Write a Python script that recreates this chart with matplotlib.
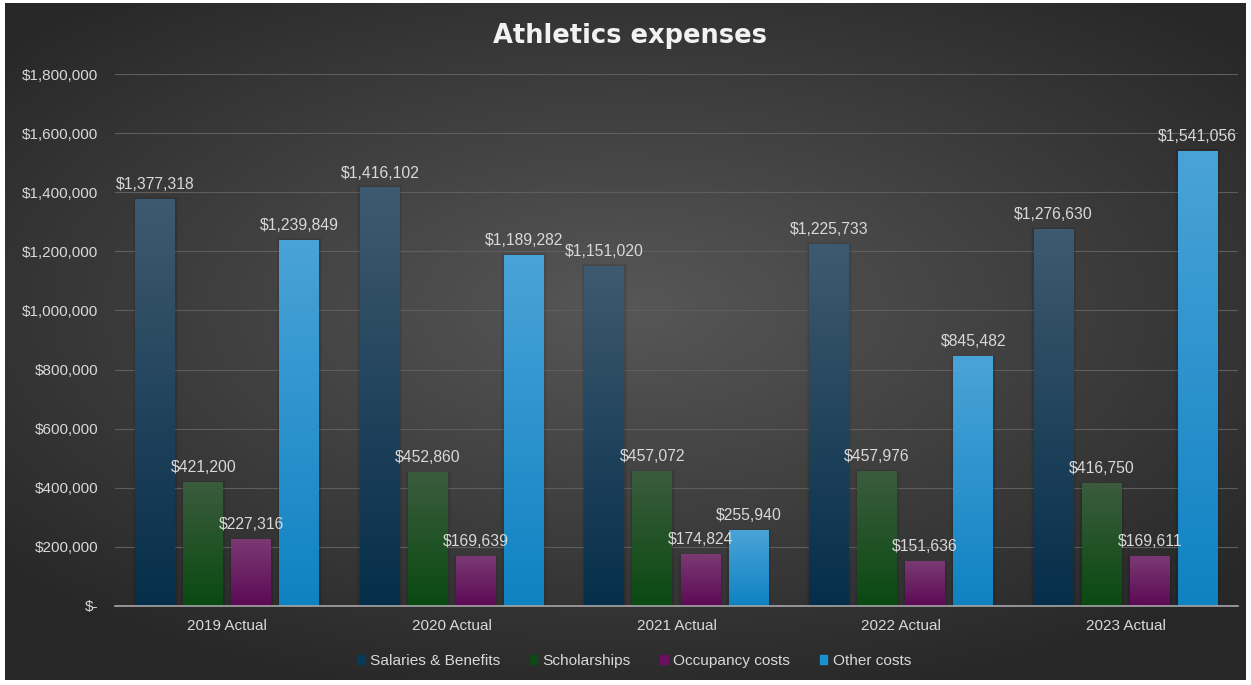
import numpy as np
import matplotlib
matplotlib.use("Agg")
import matplotlib.pyplot as plt
from matplotlib.patches import Patch, Rectangle
from matplotlib.colors import to_rgb
from matplotlib.ticker import FuncFormatter

# data
categories = ['2019 Actual', '2020 Actual', '2021 Actual', '2022 Actual', '2023 Actual']
series_names = ['Salaries & Benefits', 'Scholarships', 'Occupancy costs', 'Other costs']
salaries = [1377318, 1416102, 1151020, 1225733, 1276630]
scholarships = [421200, 452860, 457072, 457976, 416750]
occupancy = [227316, 169639, 174824, 151636, 169611]
other = [1239849, 1189282, 255940, 845482, 1541056]
series_values = [salaries, scholarships, occupancy, other]

# gradient colours (top, bottom) per series
grad_top = ['#3e5a70', '#3b5c3d', '#7b3a74', '#4aa3d8']
grad_bottom = ['#062e4a', '#0a4a12', '#5c0a55', '#0f82c2']
legend_colors = ['#0b3a58', '#0e4a16', '#6a1060', '#1a90d0']

plt.rcParams['font.family'] = ['Liberation Sans', 'DejaVu Sans']
text_col = '#d9d9d9'

fig = plt.figure(figsize=(12.51, 6.85), dpi=100, facecolor='white')

# radial background inside a thin white border
bg = fig.add_axes([5 / 1251, 5 / 685, 1241 / 1251, 677 / 685])
yy, xx = np.mgrid[-1:1:300j, -1:1:500j]
r = np.sqrt((xx / 1.0) ** 2 + ((yy + 0.1) / 0.9) ** 2)
r = np.clip(r / 1.35, 0, 1)
c_in = np.array(to_rgb('#575757'))
c_out = np.array(to_rgb('#272727'))
img = c_in[None, None, :] * (1 - r[..., None]) + c_out[None, None, :] * r[..., None]
bg.imshow(img, aspect='auto', extent=[0, 1, 0, 1], interpolation='bilinear')
bg.set_axis_off()

ax = fig.add_axes([115 / 1251, 1 - 606 / 685, (1238 - 115) / 1251, (606 - 74) / 685])
ax.patch.set_alpha(0)

x = np.arange(len(categories))
step = 0.214
width = 0.178
offsets = (np.arange(4) - 1.5) * step

for i, vals in enumerate(series_values):
    bars = ax.bar(x + offsets[i], vals, width, color=legend_colors[i], zorder=3)
    top = np.array(to_rgb(grad_top[i]))
    bot = np.array(to_rgb(grad_bottom[i]))
    t = np.linspace(0, 1, 100)[:, None]
    grad = (top * (1 - t) + bot * t)[:, None, :]
    for b, v in zip(bars, vals):
        x0, w = b.get_x(), b.get_width()
        # soft shadow around the bar
        for k, a in [(0.012, 0.05), (0.006, 0.07)]:
            ax.add_patch(Rectangle((x0 - k, 0), w + 2 * k, v * (1 + k * 0.4), color='black',
                                   alpha=a, zorder=2, linewidth=0))
        im = ax.imshow(grad, aspect='auto', extent=[x0, x0 + w, 0, v],
                       zorder=4, interpolation='bilinear')
        im.set_clip_path(b)
        ax.annotate(f'${v:,.0f}', (x0 + w / 2, v), xytext=(0, 5),
                    textcoords='offset points', ha='center', va='bottom',
                    color=text_col, fontsize=11.3, zorder=5)

ax.set_xlim(-0.5, len(categories) - 0.5)
ax.set_ylim(0, 1800000)
ax.set_yticks(np.arange(0, 1800001, 200000))
ax.yaxis.set_major_formatter(FuncFormatter(lambda v, p: '$-' if v == 0 else f'${v:,.0f}'))
ax.set_xticks(x)
ax.set_xticklabels(categories)
ax.tick_params(axis='both', length=0, colors=text_col)
ax.tick_params(axis='y', pad=12, labelsize=11)
ax.tick_params(axis='x', pad=9, labelsize=11)
ax.grid(axis='y', color='#5e5e5e', linewidth=0.8, zorder=0)
for s in ['top', 'right', 'left']:
    ax.spines[s].set_visible(False)
ax.spines['bottom'].set_color('#a6a6a6')
ax.spines['bottom'].set_linewidth(1.2)
ax.spines['bottom'].set_zorder(6)

fig.text(630 / 1251, 1 - 36 / 685, 'Athletics expenses', ha='center', va='center',
         color='#f2f2f2', fontsize=18.5, fontweight='bold', family='DejaVu Sans')

handles = [Patch(color=c) for c in legend_colors]
fig.legend(handles, series_names, loc='center', bbox_to_anchor=(634 / 1251, 1 - 661 / 685),
           ncol=4, frameon=False, handlelength=0.5, handleheight=0.5,
           handletextpad=0.35, columnspacing=1.9, labelcolor=text_col, fontsize=11.1)

fig.savefig('out.png', dpi=100, facecolor='white')
